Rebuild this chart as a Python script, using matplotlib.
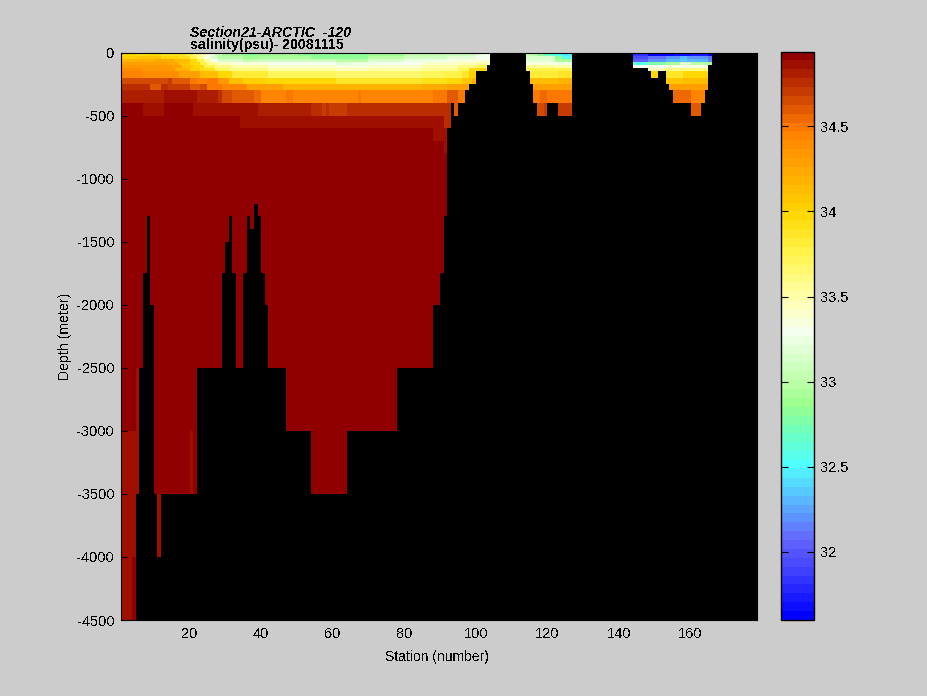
import numpy as np
import matplotlib
matplotlib.use('Agg')
import matplotlib.pyplot as plt
from matplotlib.colors import LinearSegmentedColormap

plt.rcParams['font.family'] = ['Liberation Sans', 'DejaVu Sans']
plt.rcParams['text.antialiased'] = False

W, H = 928, 696
GREY = '#cccccc'

depth_edges = [0, 30, 50, 75, 100, 125, 150, 200, 250, 300, 400, 500, 600, 700, 800, 900, 1000, 1100,
               1200, 1300, 1400, 1500, 1750, 2000, 2500, 3000, 3500, 4000, 4500]
last_station = 178
deep_value = 34.93

# deepest wet level per station, (first station, depth), holds until next entry
bottom_runs = [(1, 4500), (5, 3500), (6, 2500), (7, 1750), (8, 1300), (9, 2000), (10, 3500), (11, 4000),
               (12, 3500), (22, 2500), (29, 1750), (30, 1500), (31, 1300), (32, 1750), (33, 2500), (35, 1750),
               (36, 1300), (37, 1400), (38, 1200), (39, 1300), (40, 1750), (41, 2000), (42, 2500), (47, 3000),
               (54, 3500), (64, 3000), (78, 2500), (88, 2000), (90, 1750), (91, 1300), (92, 600), (93, 400),
               (94, 500), (95, 400), (97, 300), (98, 250), (100, 150), (103, 100), (104, 0),
               (114, 150), (115, 250), (116, 400), (117, 500), (120, 400), (123, 500), (127, 0),
               (144, 125), (148, 150), (149, 200), (151, 150), (153, 250), (154, 300), (155, 400),
               (160, 500), (163, 400), (164, 300), (165, 100), (166, 0)]

# salinity along each depth band, (first station, psu)
row_0_30 = [(1, 33.95), (5, 33.92), (8, 33.98), (12, 33.88), (19, 33.75), (21, 33.6), (23, 33.45), (25, 33.28),
            (27, 33.05), (29, 32.92), (35, 32.82), (39, 32.9), (45, 32.95), (50, 32.82), (69, 32.9), (80, 33.02),
            (91, 33.1), (100, 33.22), (102, 33.3),
            (114, 33.05), (117, 32.82), (119, 32.72), (121, 32.58), (124, 32.48),
            (144, 31.85), (148, 31.62), (155, 31.68), (160, 31.75), (165, 31.62)]
row_30_50 = [(1, 34.05), (6, 34.1), (12, 34.0), (17, 33.9), (20, 33.75), (22, 33.55), (24, 33.35), (26, 33.15),
             (28, 32.98), (35, 32.88), (39, 32.94), (54, 32.85), (70, 32.98), (80, 33.1), (92, 33.2), (100, 33.3),
             (114, 33.12), (122, 32.85), (124, 32.55),
             (144, 31.95), (148, 32.1), (153, 32.2), (157, 32.3), (159, 32.22), (165, 32.1)]
row_50_75 = [(1, 34.2), (10, 34.25), (16, 34.15), (20, 34.0), (22, 33.75), (24, 33.5), (26, 33.3), (28, 33.12),
             (35, 33.05), (39, 33.1), (61, 33.0), (70, 33.12), (80, 33.25), (92, 33.35),
             (114, 33.2), (122, 32.95),
             (144, 32.05), (148, 32.2), (153, 32.28), (157, 32.35), (159, 32.28), (165, 32.15)]
row_75_100 = [(1, 34.3), (14, 34.25), (17, 34.1), (20, 33.95), (23, 33.75), (25, 33.55), (28, 33.4), (33, 33.33),
              (42, 33.28), (61, 33.18), (65, 33.26), (72, 33.3), (85, 33.4), (95, 33.45), (100, 33.5),
              (114, 33.35), (123, 33.25),
              (144, 32.55), (148, 32.8), (153, 32.95), (157, 33.2), (160, 33.0), (165, 32.9)]
row_100_125 = [(1, 34.32), (15, 34.28), (18, 34.1), (21, 33.95), (24, 33.75), (27, 33.6), (32, 33.48), (42, 33.4),
               (61, 33.35), (70, 33.42), (85, 33.5), (95, 33.6), (100, 33.7),
               (114, 33.55), (122, 33.5),
               (144, 33.3), (153, 33.35)]
row_125_150 = [(1, 34.38), (7, 34.33), (16, 34.2), (20, 34.05), (23, 33.9), (27, 33.72), (31, 33.6), (42, 33.5),
               (61, 33.45), (70, 33.52), (85, 33.58), (95, 33.7), (98, 33.95),
               (114, 33.75),
               (148, 33.45), (153, 33.6)]
row_150_200 = [(1, 34.45), (7, 34.4), (17, 34.3), (23, 34.15), (28, 33.98), (32, 33.8), (42, 33.72), (61, 33.68),
               (85, 33.72), (91, 33.78), (96, 33.85), (98, 34.05),
               (114, 33.82), (123, 33.88),
               (149, 33.98), (153, 33.88), (158, 33.95)]
row_200_250 = [(1, 34.65), (14, 34.7), (15, 34.62), (20, 34.52), (22, 34.45), (25, 34.5), (28, 34.35), (31, 34.15),
               (35, 34.05), (41, 33.95), (61, 33.88), (85, 33.92), (92, 34.0), (96, 34.1), (99, 34.2),
               (114, 34.12), (123, 34.17),
               (153, 34.1), (158, 34.15)]
row_250_300 = [(1, 34.76), (9, 34.62), (12, 34.75), (14, 34.72), (20, 34.62), (23, 34.66), (25, 34.5), (29, 34.42),
               (36, 34.3), (46, 34.2), (85, 34.25), (92, 34.3),
               (114, 34.3),
               (153, 34.3)]
row_300_400 = [(1, 34.8), (13, 34.87), (22, 34.8), (28, 34.76), (29, 34.65), (32, 34.6), (38, 34.55), (40, 34.45),
               (47, 34.5), (49, 34.45), (54, 34.47), (55, 34.44), (59, 34.43), (67, 34.5), (68, 34.43), (71, 34.47),
               (75, 34.42), (76, 34.45), (88, 34.5), (92, 34.58), (95, 34.5),
               (114, 34.48), (118, 34.55), (120, 34.5),
               (155, 34.55), (160, 34.45)]
row_400_500 = [(1, deep_value), (7, 34.87), (13, deep_value), (21, 34.87), (39, 34.8), (54, 34.78), (57, 34.72),
               (58, 34.78), (59, 34.72), (64, 34.78), (78, 34.74), (94, 34.6),
               (114, 34.66), (119, 34.72), (120, 34.66), (123, 34.68),
               (160, 34.62), (162, 34.58)]
row_500_600 = [(1, deep_value), (34, 34.87), (91, 34.78)]
row_600_700 = [(1, deep_value), (88, 34.87)]
row_700_800 = [(1, deep_value), (91, 34.87)]

upper_rows = [(0, 30, row_0_30), (30, 50, row_30_50), (50, 75, row_50_75), (75, 100, row_75_100),
              (100, 125, row_100_125), (125, 150, row_125_150), (150, 200, row_150_200), (200, 250, row_200_250),
              (250, 300, row_250_300), (300, 400, row_300_400), (400, 500, row_400_500), (500, 600, row_500_600),
              (600, 700, row_600_700), (700, 800, row_700_800)]

# slightly fresher cells in the deep water: first station, end station, top, bottom, psu
deep_patches = [(5, 6, 2500, 3500, 34.87), (1, 5, 3000, 4000, 34.87), (1, 4, 4000, 4500, 34.87),
                (11, 12, 3500, 4000, 34.87), (20, 21, 3000, 3500, 34.87)]

# colorbar
cbar_min, cbar_max = 31.6, 34.94
cbar_ticks = [32, 32.5, 33, 33.5, 34, 34.5]
color_values = [31.6, 31.85, 32.05, 32.25, 32.5, 32.7, 32.85, 33.0, 33.3, 33.5, 33.75, 34.0, 34.25, 34.5, 34.94]
color_rgb = [(0, 0, 255), (60, 60, 255), (100, 100, 255), (90, 170, 255), (80, 255, 255), (110, 255, 190),
             (150, 255, 140), (190, 255, 170), (245, 255, 240), (255, 255, 170), (255, 245, 80), (255, 215, 0),
             (255, 170, 0), (255, 125, 0), (145, 0, 0)]

stations = np.arange(1, last_station + 2)
edges = np.array(depth_edges)
grid = np.full((len(depth_edges) - 1, last_station), deep_value)

for top, bot, runs in upper_rows:
    k = depth_edges.index(top)
    for (start, val), nxt in zip(runs, runs[1:] + [(last_station + 1, 0)]):
        grid[k, start - 1:nxt[0] - 1] = val

for s0, s1, top, bot, val in deep_patches:
    grid[depth_edges.index(top):depth_edges.index(bot), s0 - 1:s1 - 1] = val

for (start, depth), nxt in zip(bottom_runs, bottom_runs[1:] + [(last_station + 1, 0)]):
    grid[edges[:-1] >= depth, start - 1:nxt[0] - 1] = np.nan

span = cbar_max - cbar_min
cmap = LinearSegmentedColormap.from_list(
    'sal', [((v - cbar_min) / span, tuple(c / 255 for c in rgb)) for v, rgb in zip(color_values, color_rgb)], N=64)
cmap.set_bad('black')

fig = plt.figure(figsize=(W / 100, H / 100), dpi=100, facecolor=GREY)


def px_axes(x0, x1, y0, y1):
    return fig.add_axes([x0 / W, 1 - y1 / H, (x1 - x0) / W, (y1 - y0) / H])


ax = px_axes(121.5, 757.5, 52.5, 620)
ax.set_facecolor('black')
mesh = ax.pcolormesh(stations, -edges, np.ma.masked_invalid(grid), cmap=cmap, vmin=cbar_min, vmax=cbar_max,
                     shading='flat', antialiased=False)
ax.set_xlim(1, 178.7)
ax.set_ylim(-4500, 0)
ax.set_xticks(np.arange(20, 161, 20))
ax.set_yticks(np.arange(-4500, 1, 500))
ax.set_yticklabels([str(v) for v in np.arange(-4500, 1, 500)])
ax.tick_params(direction='in', length=4, labelsize=10.5, pad=5, width=0.8)
ax.set_xlabel('Station (number)', fontsize=10)
ax.set_ylabel('Depth (meter)', fontsize=10.2)
ax.xaxis.set_label_coords((437 - 121.5) / 636, -(657 - 620) / 567.5, transform=ax.transAxes)
ax.xaxis.label.set_va('center')
ax.yaxis.set_label_coords(-(121.5 - 65.5) / 636, 0.5, transform=ax.transAxes)
ax.yaxis.label.set_va('center')

cax = px_axes(781.5, 814.5, 51.5, 620)
cb = fig.colorbar(mesh, cax=cax)
cb.set_ticks(cbar_ticks)
cb.set_ticklabels(['32', '32.5', '33', '33.5', '34', '34.5'])
cax.tick_params(direction='in', left=True, right=True, length=5, labelsize=10.5, pad=4, width=0.8)
cb.outline.set_linewidth(1.0)

fig.text(190 / W, 1 - 37 / H, 'Section21-ARCTIC  -120', fontsize=10.2, style='italic', weight='bold', va='baseline')
fig.text(190 / W, 1 - 48.5 / H, 'salinity(psu)- 20081115', fontsize=10.2, weight='bold', va='baseline')

fig.savefig('out.png', dpi=100, facecolor=GREY)
